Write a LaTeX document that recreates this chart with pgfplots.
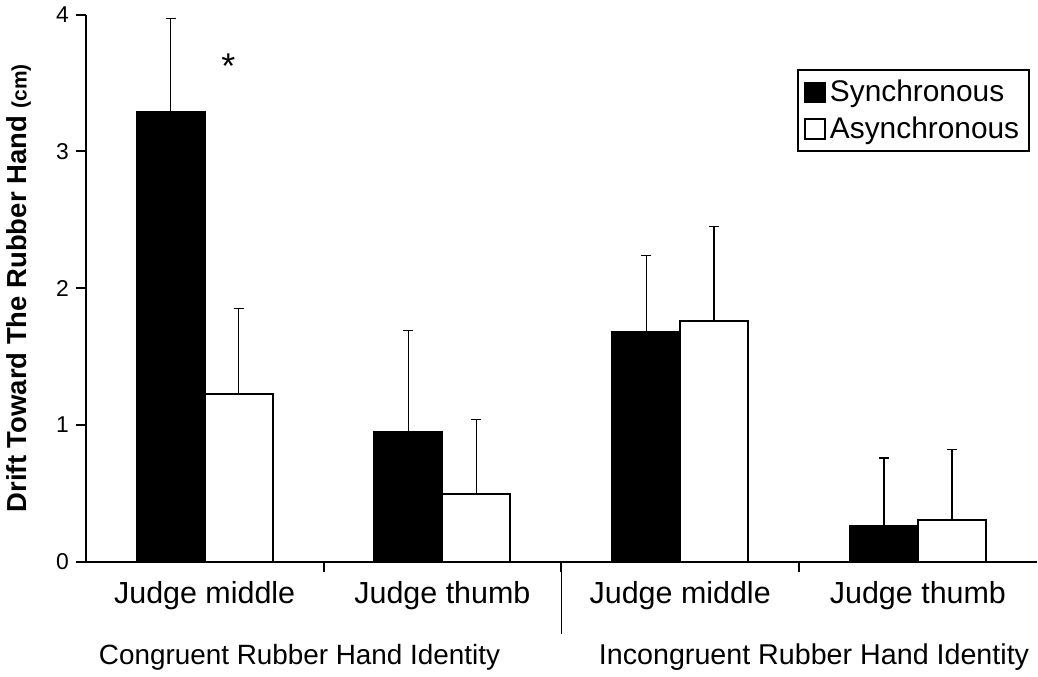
\documentclass[border=0pt]{standalone}
\usepackage{fontspec}
\setmainfont{Liberation Sans}
\usepackage{pgfplots}
\pgfplotsset{compat=1.18}
\begin{document}
\begin{tikzpicture}
\begin{axis}[
  scale only axis,
  width=476bp, height=274bp,
  xmin=-0.5, xmax=3.5, ymin=0, ymax=4,
  axis x line*=bottom, axis y line*=left,
  axis line style={-, line width=1.2bp},
  ybar=0pt, bar width=34bp,
  xtick={0.5,1.5,2.5},
  xticklabels={},
  extra x ticks={0,1,2,3},
  extra x tick labels={Judge middle, Judge thumb, Judge middle, Judge thumb},
  extra x tick style={major tick length=0pt},
  ytick={0,1,2,3,4},
  extra y ticks={0,1,2,3,4},
  extra y tick labels={},
  extra y tick style={tick align=outside, major tick length=5bp, major y tick style={draw=black, line width=1bp}},
  tick align=outside,
  major tick length=5bp,
  tick style={draw=black, line width=1bp},
  /pgf/number format/assume math mode=true,
  xticklabel style={font=\fontsize{15.3}{17}\selectfont, yshift=-6bp},
  yticklabel style={font=\fontsize{11.5}{13}\selectfont},
  ylabel={\textbf{Drift Toward The Rubber Hand }{\fontsize{10.5}{13}\selectfont\bfseries(cm)}},
  ylabel style={font=\fontsize{13.8}{16}\selectfont, at={(axis description cs:-0.0705,0.5)}, anchor=center, rotate=0},
  legend style={at={(0.993,0.9)}, anchor=north east, draw=black, line width=1bp,
    font=\fontsize{15}{18}\selectfont, inner sep=3bp, row sep=2bp,
    cells={anchor=west}},
  legend image code/.code={\draw[#1, line width=0.9bp] (0bp,-5bp) rectangle (10bp,5bp);},
  clip=false,
]
\addplot[fill=black, draw=black, line width=1bp,
  error bars/.cd, y dir=plus, y explicit,
  error bar style={line width=0.7bp, black}, error mark options={rotate=90, mark size=2.5bp, line width=0.7bp}]
  coordinates {(0,3.29) +- (0,0.68) (1,0.95) +- (0,0.74) (2,1.68) +- (0,0.56) (3,0.26) +- (0,0.50)};
\addplot[fill=white, draw=black, line width=1bp,
  error bars/.cd, y dir=plus, y explicit,
  error bar style={line width=0.7bp, black}, error mark options={rotate=90, mark size=2.5bp, line width=0.7bp}]
  coordinates {(0,1.23) +- (0,0.62) (1,0.50) +- (0,0.54) (2,1.76) +- (0,0.69) (3,0.31) +- (0,0.51)};
\legend{Synchronous, Asynchronous}
\node[font=\fontsize{18}{20}\selectfont] at (axis cs:0.1,3.62) {*};
\draw[line width=0.7bp] (axis cs:1.5,0) -- ([yshift=-36bp]axis cs:1.5,0);
\node[font=\fontsize{14}{16}\selectfont] at ([yshift=-47.5bp]axis cs:0.399,0) {Congruent Rubber Hand Identity};
\node[font=\fontsize{14.4}{16}\selectfont] at ([yshift=-47.5bp]axis cs:2.563,0) {Incongruent Rubber Hand Identity};
\end{axis}
\end{tikzpicture}
\end{document}
